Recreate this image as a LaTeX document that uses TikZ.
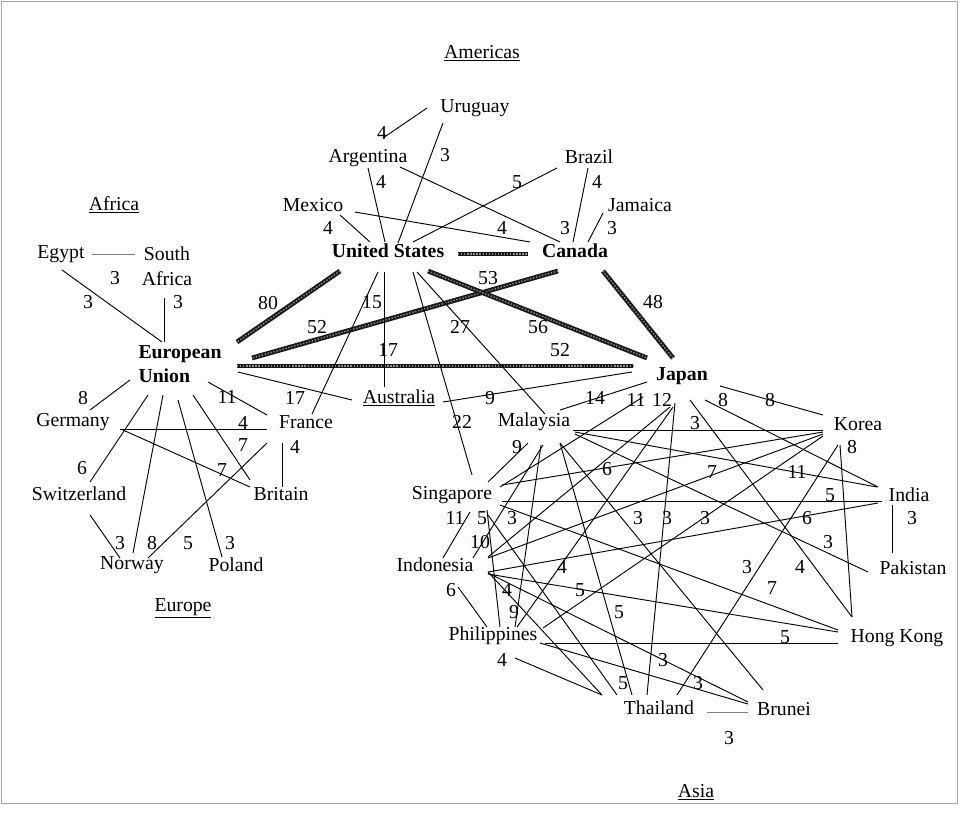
\documentclass[tikz,border=0pt]{standalone}
\usepackage{fontspec}
\setmainfont{Liberation Serif}
\newcommand\lnk[5][ln]{\draw[#1] ([shift={(#3)}]#2.center) -- ([shift={(#5)}]#4.center);}
\newcounter{labc}
\newcommand\lab[2]{\stepcounter{labc}\node[lbl] (lab\arabic{labc}) at (#1) {#2};}
\begin{document}
\begin{tikzpicture}[x=0.75pt,y=-0.75pt,
  every node/.style={font=\fontsize{14.8}{17.3}\selectfont, inner sep=0pt},
  cn/.style={},
  cb/.style={font=\fontsize{14.8}{17.3}\selectfont\bfseries},
  lbl/.style={},
  ttl/.style={},
  ln/.style={line width=0.7pt, draw=black},
  faint/.style={line width=0.6pt, draw=black!50},
  heavy/.style={line width=3.6pt, draw=black!90, postaction={draw=white!55!black, line width=1.1pt, dash pattern=on 1pt off 1.3pt}}]
\useasboundingbox (0,0) rectangle (964,815);
\draw[black!35, line width=0.6pt] (1,1) rectangle (957,803);

% titles and countries
\node[ttl] (tam) at (482,53) {\underline{Americas}};
\node[cn] (uy) at (475,108) {Uruguay};
\node[cn] (ar) at (368,158) {Argentina};
\node[cn] (br) at (589,157) {Brazil};
\node[cn] (mx) at (313,205) {Mexico};
\node[cn] (jm) at (640,205) {Jamaica};
\node[cb] (us) at (388,251) {United States};
\node[cb] (ca) at (575,251) {Canada};
\node[ttl] (taf) at (114,205) {\underline{Africa}};
\node[cn] (eg) at (61,254) {Egypt};
\node[cn,align=center] (sa) at (167,266) {South\\[1.5pt]Africa};
\node[cb,align=left] (eu) at (180,364) {European\\[1pt]Union};
\node[cb] (jp) at (682,376) {Japan};
\node[cn] (au) at (399,398) {\underline{Australia}};
\node[cn] (de) at (73,422) {Germany};
\node[cn] (fr) at (306,422) {France};
\node[cn] (my) at (534,422) {Malaysia};
\node[cn] (kr) at (858,424) {Korea};
\node[cn] (ch) at (79,494) {Switzerland};
\node[cn] (gb) at (281,494) {Britain};
\node[cn] (sg) at (452,495) {Singapore};
\node[cn] (ia) at (909,495) {India};
\node[cn] (no) at (132,565) {Norway};
\node[cn] (pl) at (236,565) {Poland};
\node[cn] (io) at (435,565) {Indonesia};
\node[cn] (pk) at (913,568) {Pakistan};
\node[ttl] (teu) at (183,608) {\underline{Europe}};
\node[cn] (ph) at (493,636) {Philippines};
\node[cn] (hk) at (897,638) {Hong Kong};
\node[cn] (th) at (659,708) {Thailand};
\node[cn] (bn) at (784,709) {Brunei};
\node[ttl] (tas) at (696,792) {\underline{Asia}};

% Americas
\lnk{uy}{-48,0}{ar}{15,-20}
\lnk{uy}{-32,15}{us}{10,-8}
\lnk{ar}{0,10}{us}{-3,-9}
\lnk{ar}{32,9}{ca}{-15,-9}
\lnk{br}{-32,11}{us}{25,-9}
\lnk{br}{-1,11}{ca}{-2,-9}
\lnk{jm}{-37,8}{ca}{13,-9}
\lnk{mx}{27,10}{us}{-18,-9}
\lnk{mx}{42,7}{ca}{-45,-9}
\lnk[heavy]{us}{70,3}{ca}{-47,3}
\lnk[heavy]{us}{-48,20}{eu}{57,-22}
\lnk[heavy]{ca}{-17,20}{eu}{72,-6}
\lnk[heavy]{us}{40,20}{jp}{-35,-18}
\lnk[heavy]{ca}{28,20}{jp}{-9,-18}
\lnk[heavy]{eu}{57,2}{jp}{-49,-10}
\lnk{us}{-10,21}{fr}{6,-8}
\lnk{us}{-4,21}{au}{-15,-11}
\lnk{us}{25,21}{sg}{20,-20}
\lnk{us}{29,21}{my}{11,-8}
\lnk{eu}{58,8}{au}{-47,2}
\lnk{au}{44,4}{jp}{-50,-4}

% Africa
\lnk[faint]{eg}{31,0}{sa}{-32,-12}
\lnk{eg}{1,16}{eu}{-18,-22}
\lnk{sa}{-3,32}{eu}{-16,-22}

% Europe
\lnk{eu}{-50,16}{de}{17,-12}
\lnk{eu}{28,18}{fr}{-39,-7}
\lnk{de}{47,7}{fr}{-39,7}
\lnk{de}{50,8}{gb}{-31,-7}
\lnk{eu}{-32,31}{ch}{11,-12}
\lnk{eu}{-17,31}{no}{1,-12}
\lnk{eu}{-2,36}{pl}{-14,-8}
\lnk{eu}{13,31}{gb}{-31,-14}
\lnk{fr}{-24,21}{gb}{1,-7}
\lnk{fr}{-39,21}{no}{16,-7}
\lnk{ch}{11,21}{no}{-12,-7}

% Asia
\lnk{jp}{-35,6}{my}{26,-12}
\lnk{jp}{-39,21}{sg}{48,-8}
\lnk{jp}{-12,31}{io}{53,-8}
\lnk{jp}{-9,31}{ph}{24,-9}
\lnk{jp}{-7,27}{th}{-12,-13}
\lnk{jp}{8,24}{hk}{-45,-21}
\lnk{jp}{23,24}{ia}{-31,-8}
\lnk{jp}{38,10}{kr}{-35,-9}
\lnk{my}{39,8}{kr}{-35,6}
\lnk{my}{41,10}{ia}{-32,-8}
\lnk{my}{41,12}{pk}{-45,4}
\lnk{my}{-6,21}{sg}{36,-13}
\lnk{my}{9,23}{io}{38,-7}
\lnk{my}{7,23}{ph}{22,-9}
\lnk{my}{26,21}{th}{-27,-13}
\lnk{my}{26,21}{bn}{-21,-19}
\lnk{sg}{50,-10}{kr}{-35,8}
\lnk{sg}{50,6}{ia}{-27,6}
\lnk{sg}{18,17}{io}{8,-7}
\lnk{sg}{35,15}{ph}{7,-9}
\lnk{sg}{36,20}{th}{-42,-13}
\lnk{sg}{48,10}{hk}{-59,-8}
\lnk{io}{53,-7}{kr}{-35,10}
\lnk{io}{53,7}{ia}{-31,8}
\lnk{io}{53,9}{hk}{-59,-6}
\lnk{io}{53,7}{th}{-57,-13}
\lnk{io}{53,8}{bn}{-36,-7}
\lnk{io}{23,22}{ph}{-6,-9}
\lnk{ph}{50,-8}{kr}{-35,12}
\lnk{ph}{52,7}{hk}{-59,5}
\lnk{ph}{47,7}{bn}{-36,-5}
\lnk{ph}{22,22}{th}{-57,-13}
\lnk{kr}{-20,21}{th}{18,-13}
\lnk{kr}{-18,21}{hk}{-45,-21}
\lnk{ia}{-17,10}{pk}{-21,-15}
\lnk[faint]{th}{48,4}{bn}{-36,3}

% labels: Americas
\lab{382,133}{4}
\lab{445,155}{3}
\lab{381,182}{4}
\lab{517,182}{5}
\lab{597,182}{4}
\lab{328,228}{4}
\lab{502,228}{4}
\lab{565,228}{3}
\lab{612,228}{3}
% Africa
\lab{115,278}{3}
\lab{88,302}{3}
\lab{178,302}{3}
% heavy
\lab{268,303}{80}
\lab{317,327}{52}
\lab{488,278}{53}
\lab{538,327}{56}
\lab{653,302}{48}
\lab{560,350}{52}
\lab{372,302}{15}
\lab{388,350}{17}
\lab{462,422}{22}
\lab{460,327}{27}
\lab{295,398}{17}
\lab{490,398}{9}
% Europe
\lab{83,398}{8}
\lab{227,397}{11}
\lab{243,423}{4}
\lab{243,445}{7}
\lab{295,447}{4}
\lab{82,468}{6}
\lab{222,470}{7}
\lab{120,543}{3}
\lab{152,543}{8}
\lab{188,543}{5}
\lab{230,543}{3}
% Asia
\lab{595,398}{14}
\lab{636,400}{11}
\lab{662,400}{12}
\lab{723,400}{8}
\lab{770,400}{8}
\lab{695,423}{3}
\lab{517,447}{9}
\lab{852,447}{8}
\lab{607,469}{6}
\lab{712,472}{7}
\lab{797,472}{11}
\lab{830,495}{5}
\lab{912,518}{3}
\lab{455,518}{11}
\lab{482,518}{5}
\lab{512,518}{3}
\lab{638,518}{3}
\lab{667,518}{3}
\lab{705,518}{3}
\lab{807,518}{6}
\lab{480,542}{10}
\lab{828,542}{3}
\lab{562,567}{4}
\lab{747,567}{3}
\lab{800,567}{4}
\lab{451,590}{6}
\lab{507,590}{4}
\lab{580,590}{5}
\lab{772,588}{7}
\lab{619,612}{5}
\lab{514,612}{9}
\lab{785,637}{5}
\lab{502,660}{4}
\lab{663,660}{3}
\lab{698,683}{3}
\lab{623,683}{5}
\lab{729,738}{3}
\end{tikzpicture}
\end{document}
